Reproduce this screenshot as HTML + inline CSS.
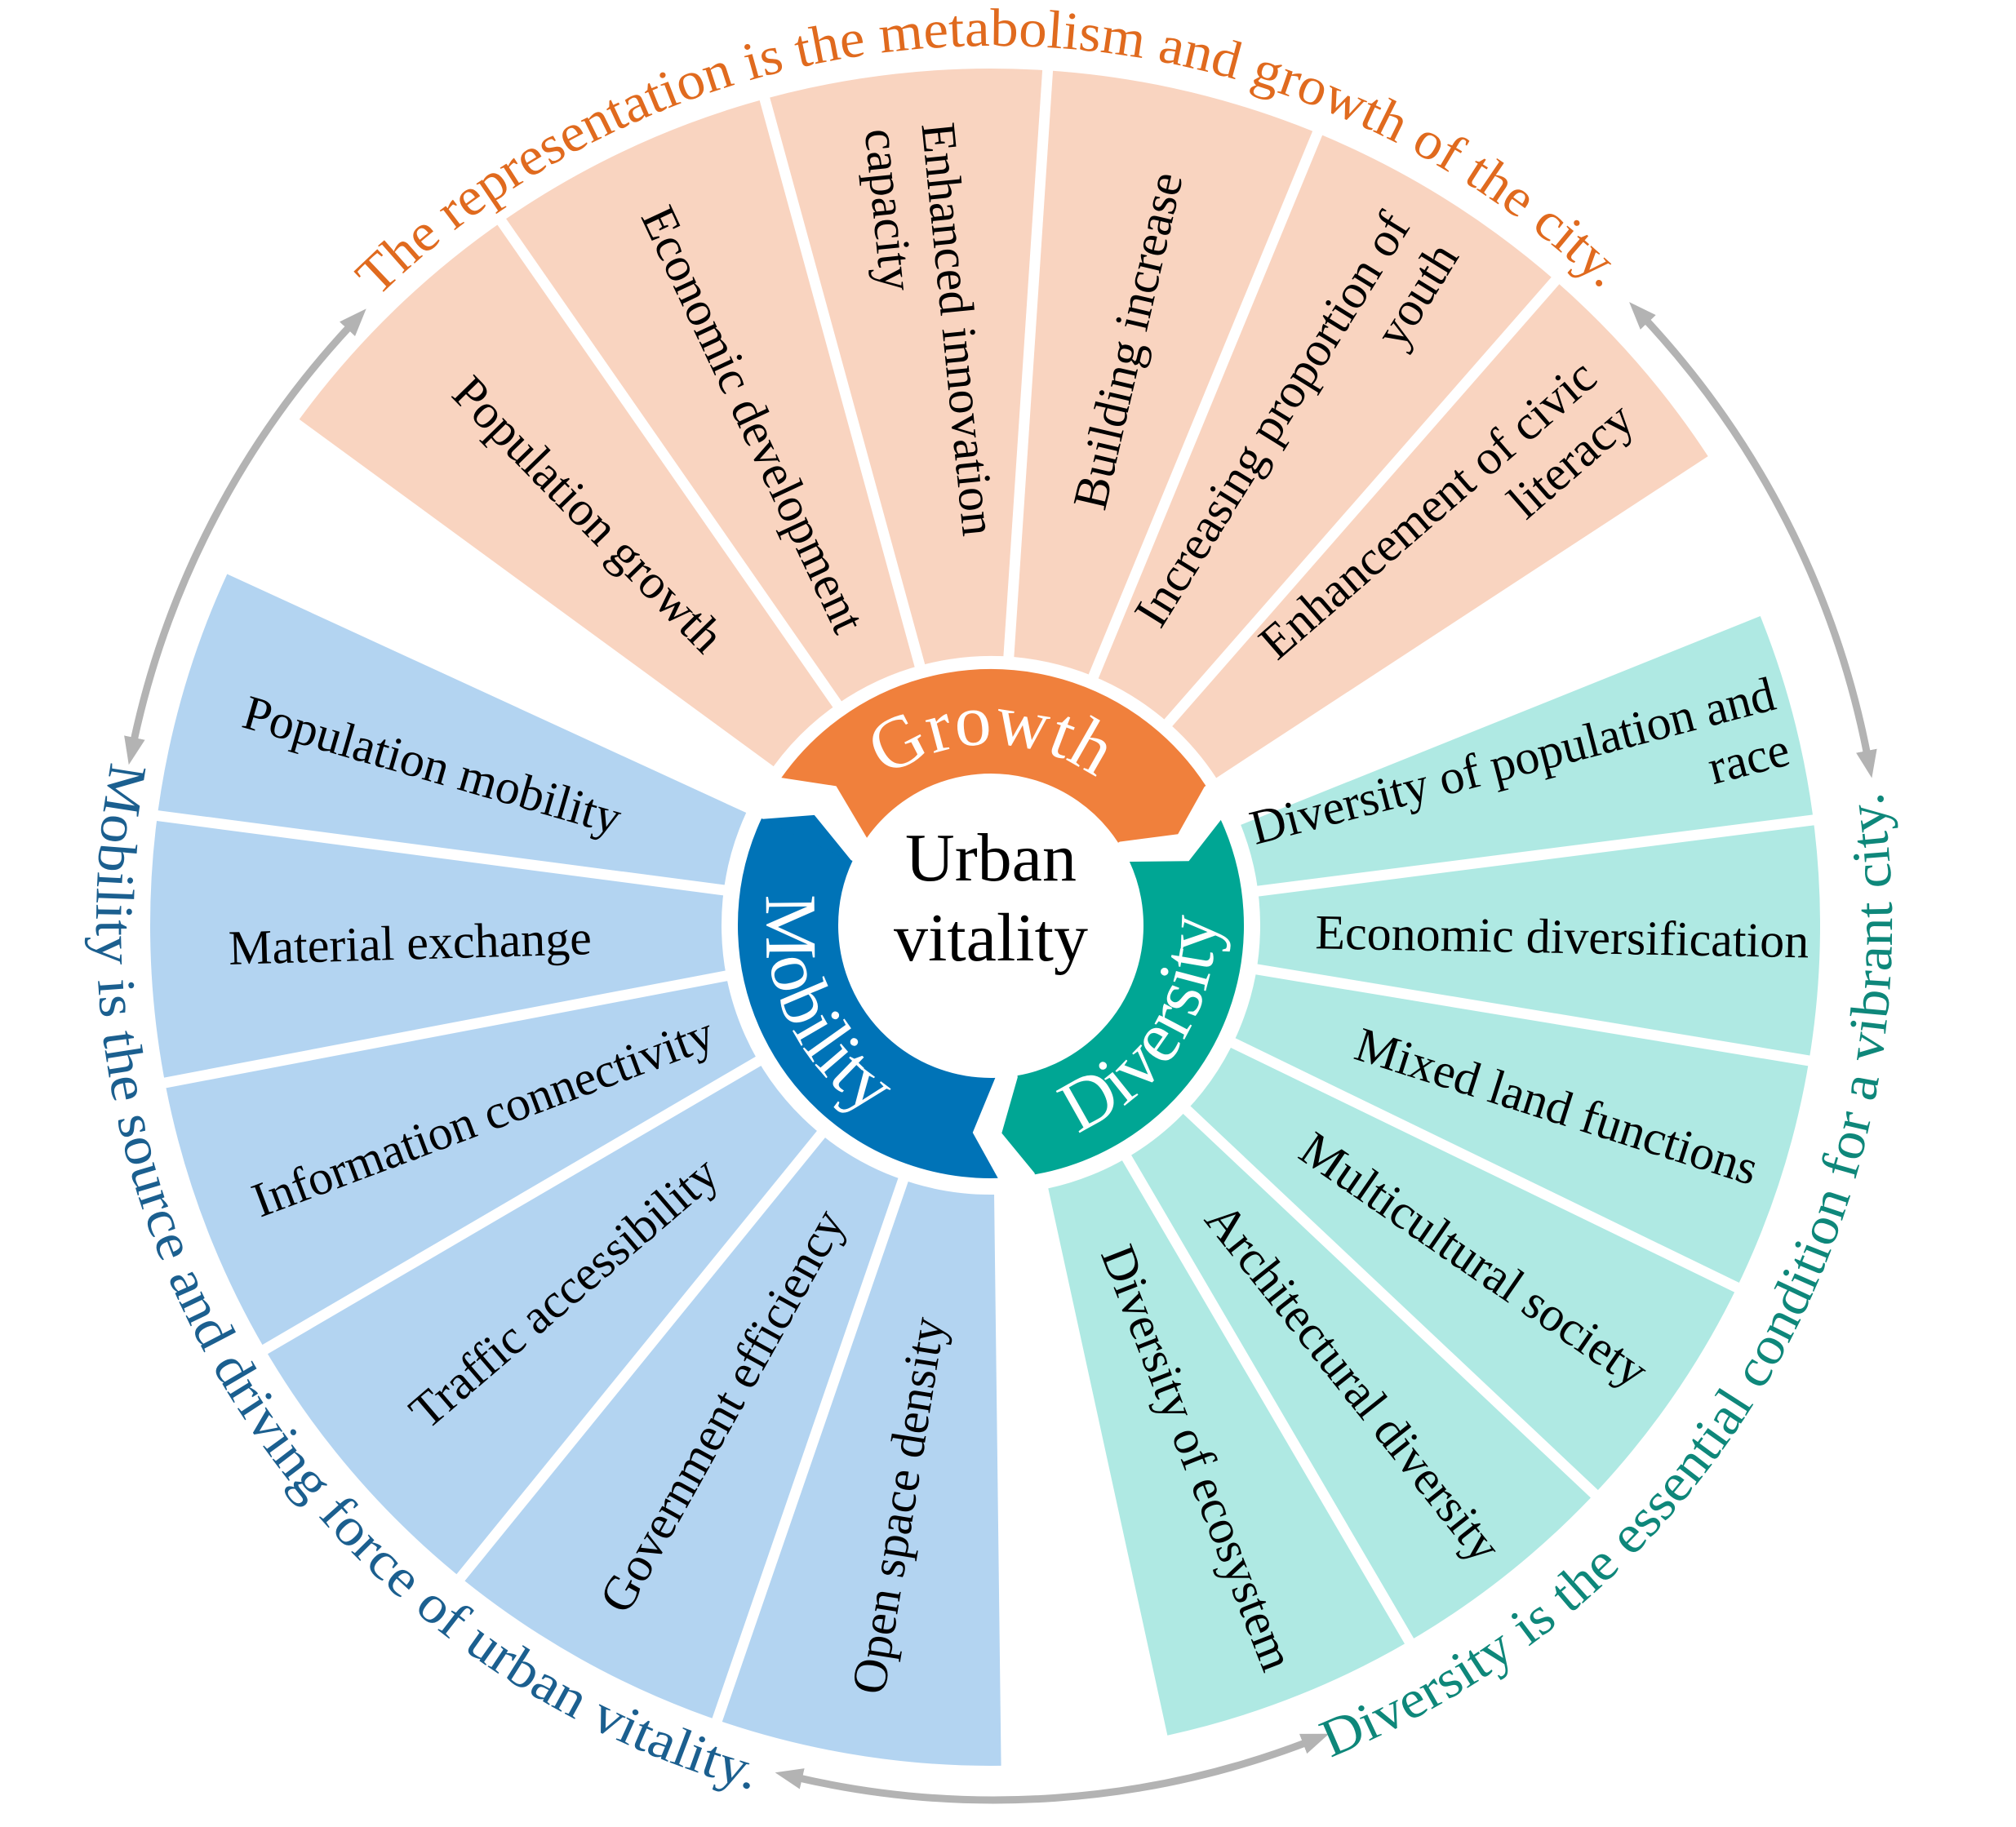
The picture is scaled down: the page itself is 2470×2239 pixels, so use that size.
<!DOCTYPE html>
<html><head><meta charset="utf-8"><style>
html,body{margin:0;padding:0;background:#fff;}
svg{display:block;}
</style></head><body>
<svg xmlns="http://www.w3.org/2000/svg" width="2470" height="2239" viewBox="0 0 2470 2239">
<defs>
<marker id="ah" markerUnits="userSpaceOnUse" markerWidth="40" markerHeight="40" refX="6" refY="15" orient="auto-start-reverse">
<path d="M0,2 L34,15 L0,28 Z" fill="#B3B3B3"/>
</marker>
<path id="tTop" d="M462.4,365.1 A1078 1078 0 0 1 1973.6,365.1"/>
<path id="tLeft" d="M136.4,933.5 A1100 1100 0 0 0 942.6,2199"/>
<path id="tRight" d="M1630.1,2153.9 A1100 1100 0 0 0 2302.9,952.4"/>
<path id="gPath" d="M1047.9,991.3 A222 222 0 0 1 1388.1,991.3"/>
<path id="mPath" d="M992.7,976.3 A275 275 0 0 0 1194,1408"/>
<path id="dPath" d="M1265.8,1404.8 A275 275 0 0 0 1483.6,1062.8"/>
</defs>
<rect width="2470" height="2239" fill="#fff"/>

<g transform="translate(1214,1134)">
  <!-- petals -->
  <circle r="690" fill="none" stroke="#F9D4C0" stroke-width="720" stroke-dasharray="1331.9 5000" transform="rotate(216.2)"/>
  <circle r="680" fill="none" stroke="#B3D4F1" stroke-width="700" stroke-dasharray="1369.6 5000" transform="rotate(89.3)"/>
  <circle r="673" fill="none" stroke="#AFE9E3" stroke-width="686" stroke-dasharray="1169.9 5000" transform="rotate(338.1)"/>
  <g stroke="#fff" stroke-width="13">
    <line x1="300" y1="0" x2="1120" y2="0" transform="rotate(235.2)"/>
    <line x1="300" y1="0" x2="1120" y2="0" transform="rotate(254.7)"/>
    <line x1="300" y1="0" x2="1120" y2="0" transform="rotate(273.8)"/>
    <line x1="300" y1="0" x2="1120" y2="0" transform="rotate(292.4)"/>
    <line x1="300" y1="0" x2="1120" y2="0" transform="rotate(311.2)"/>
    <line x1="300" y1="0" x2="1120" y2="0" transform="rotate(187.5)"/>
    <line x1="300" y1="0" x2="1120" y2="0" transform="rotate(169.2)"/>
    <line x1="300" y1="0" x2="1120" y2="0" transform="rotate(149.7)"/>
    <line x1="300" y1="0" x2="1120" y2="0" transform="rotate(129.1)"/>
    <line x1="300" y1="0" x2="1120" y2="0" transform="rotate(109)"/>
    <line x1="300" y1="0" x2="1120" y2="0" transform="rotate(352.7)"/>
    <line x1="300" y1="0" x2="1120" y2="0" transform="rotate(9.4)"/>
    <line x1="300" y1="0" x2="1120" y2="0" transform="rotate(25.9)"/>
    <line x1="300" y1="0" x2="1120" y2="0" transform="rotate(43.3)"/>
    <line x1="300" y1="0" x2="1120" y2="0" transform="rotate(59.7)"/>
  </g>
  <circle r="322" fill="#fff"/>

  <!-- ring segments -->
  <circle r="250" fill="none" stroke="#F0803C" stroke-width="128" stroke-dasharray="488.7 3000" transform="rotate(215)"/>
  <circle r="248.5" fill="none" stroke="#00A694" stroke-width="123" stroke-dasharray="455.3 3000" transform="rotate(335)"/>
  <circle r="248.5" fill="none" stroke="#0073B7" stroke-width="123" stroke-dasharray="507.4 3000" transform="rotate(88)"/>
  <g fill="#fff">
    <polygon points="320,-2 180,-2 253.1,31.1" transform="rotate(215)"/>
    <polygon points="318,-2 180,-2 253.1,31.1" transform="rotate(335)"/>
    <polygon points="318,-2 180,-2 253.1,31.1" transform="rotate(88)"/>
  </g>
  <polygon points="314,-1 186,-1 253.1,31.1" fill="#F0803C" transform="rotate(327)"/>
  <polygon points="310,-1 187,-1 253.1,31.1" fill="#00A694" transform="rotate(80)"/>
  <polygon points="310,-1 187,-1 253.1,31.1" fill="#0073B7" transform="rotate(205)"/>

  <!-- petal labels -->
  <g font-family="'Liberation Serif', serif" font-size="60" fill="#000">
    <text transform="rotate(45.7)" x="-705" y="21" text-anchor="middle">Population growth</text>
    <text transform="rotate(64.95)" x="-685" y="21" text-anchor="middle">Economic development</text>
    <text transform="rotate(84.25)" text-anchor="start"><tspan x="-985" y="-14">Enhanced innovation</tspan><tspan x="-985" y="56">capacity</tspan></text>
    <text transform="rotate(283.1)" x="736" y="21" text-anchor="middle">Building increase</text>
    <text transform="rotate(301.8)" text-anchor="end"><tspan x="1000" y="-14">Increasing proportion of</tspan><tspan x="1000" y="56">youth</tspan></text>
    <text transform="rotate(319)" text-anchor="end"><tspan x="1000" y="-14">Enhancement of civic</tspan><tspan x="1000" y="56">literacy</tspan></text>

    <text transform="rotate(16.1)" x="-712" y="21" text-anchor="middle">Population mobility</text>
    <text transform="rotate(-1.65)" x="-712" y="21" text-anchor="middle">Material exchange</text>
    <text transform="rotate(-20.55)" x="-665" y="21" text-anchor="middle">Information connectivity</text>
    <text transform="rotate(-40.6)" x="-690" y="21" text-anchor="middle">Traffic accessibility</text>
    <text transform="rotate(-60.95)" x="-680" y="21" text-anchor="middle">Government efficiency</text>
    <text transform="rotate(-80.85)" x="-720" y="21" text-anchor="middle">Open space density</text>

    <text transform="rotate(345.4)" text-anchor="end"><tspan x="1000" y="-14">Diversity of population and</tspan><tspan x="1000" y="56">race</tspan></text>
    <text transform="rotate(1.05)" x="700" y="21" text-anchor="middle">Economic diversification</text>
    <text transform="rotate(17.65)" x="728" y="21" text-anchor="middle">Mixed land functions</text>
    <text transform="rotate(34.6)" x="720" y="21" text-anchor="middle">Multicultural society</text>
    <text transform="rotate(51.5)" x="715" y="21" text-anchor="middle">Architectural diversity</text>
    <text transform="rotate(68.7)" x="700" y="21" text-anchor="middle">Diversity of ecosystem</text>
  </g>
</g>

<!-- ring labels -->
<g font-family="'Liberation Serif', serif" font-size="90" fill="#fff" transform="translate(-4,0)">
  <text><textPath href="#gPath" startOffset="50%" text-anchor="middle">Growth</textPath></text>
  <text><textPath href="#mPath" startOffset="50%" text-anchor="middle">Mobility</textPath></text>
  <text><textPath href="#dPath" startOffset="50%" text-anchor="middle">Diversity</textPath></text>
</g>

<!-- center -->
<g font-family="'Liberation Serif', serif" font-size="84" fill="#000" text-anchor="middle">
  <text x="1214" y="1079">Urban</text>
  <text x="1214" y="1177">vitality</text>
</g>

<!-- gray arrows -->
<g fill="none" stroke="#B3B3B3" stroke-width="9" marker-start="url(#ah)" marker-end="url(#ah)">
  <path d="M163.6,909.9 A1078 1078 0 0 1 429.6,398.8"/>
  <path d="M2015.2,390.6 A1090 1090 0 0 1 2288,926"/>
  <path d="M1602.2,2134.8 A1072 1072 0 0 1 976.9,2178.5"/>
</g>

<!-- outer texts -->
<g font-family="'Liberation Serif', serif" font-size="66">
  <text fill="#E06A1E"><textPath href="#tTop" textLength="1660" lengthAdjust="spacingAndGlyphs">The representation is the metabolism and growth of the city.</textPath></text>
  <text fill="#1B5F8F"><textPath href="#tLeft" textLength="1630" lengthAdjust="spacingAndGlyphs">Mobility is the source and driving force of urban vitality.</textPath></text>
  <text fill="#0E877A"><textPath href="#tRight" textLength="1470" lengthAdjust="spacingAndGlyphs">Diversity is the essential condition for a vibrant city.</textPath></text>
</g>
</svg>
</body></html>
